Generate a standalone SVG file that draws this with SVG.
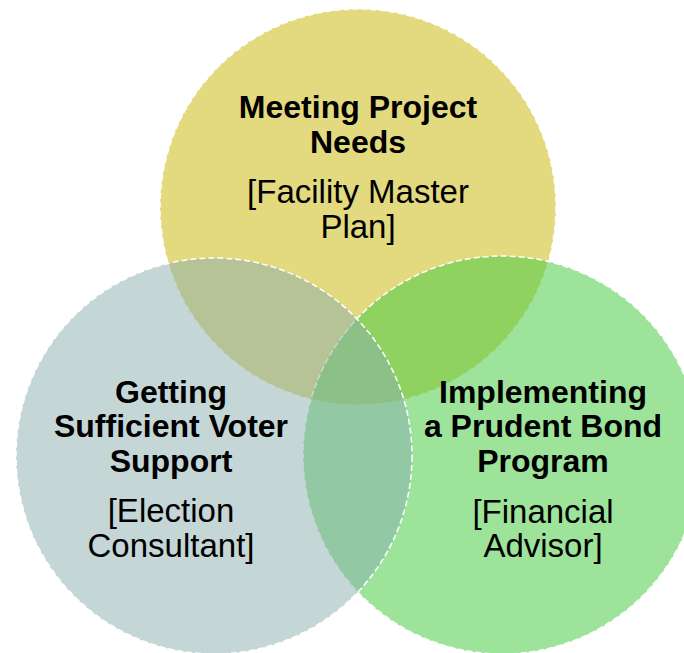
<svg xmlns="http://www.w3.org/2000/svg" width="684" height="653" viewBox="0 0 684 653">
  <style>
    .ring { stroke: #ffffff; stroke-width: 1.5; stroke-dasharray: 6 3; }
    .t { font-family: "Liberation Sans", Arial, sans-serif; text-anchor: middle; fill: #000000; }
    .h { font-size: 32px; font-weight: bold; }
    .s { font-size: 33px; }
  </style>
  <rect width="684" height="653" fill="#ffffff"/>

  <!-- top circle: project needs -->
  <g id="needs">
    <circle class="ring" cx="358" cy="207" r="198" fill="#E3D97E"/>
    <text class="t h" x="358" y="118">Meeting Project</text>
    <text class="t h" x="358" y="153">Needs</text>
    <text class="t s" x="358" y="203">[Facility Master</text>
    <text class="t s" x="358" y="238">Plan]</text>
  </g>

  <!-- right circle: bond program -->
  <g id="bond">
    <circle class="ring" cx="502" cy="455" r="199" fill="#4DCC47" fill-opacity="0.55"/>
    <text class="t h" x="543" y="403">Implementing</text>
    <text class="t h" x="543" y="437">a Prudent Bond</text>
    <text class="t h" x="543" y="472">Program</text>
    <text class="t s" x="543" y="523">[Financial</text>
    <text class="t s" x="543" y="557">Advisor]</text>
  </g>

  <!-- left circle: voter support -->
  <g id="voter">
    <circle class="ring" cx="214" cy="456" r="198" fill="#89ADAD" fill-opacity="0.5"/>
    <text class="t h" x="171" y="403">Getting</text>
    <text class="t h" x="171" y="437">Sufficient Voter</text>
    <text class="t h" x="171" y="472">Support</text>
    <text class="t s" x="171" y="522">[Election</text>
    <text class="t s" x="171" y="557">Consultant]</text>
  </g>
</svg>
